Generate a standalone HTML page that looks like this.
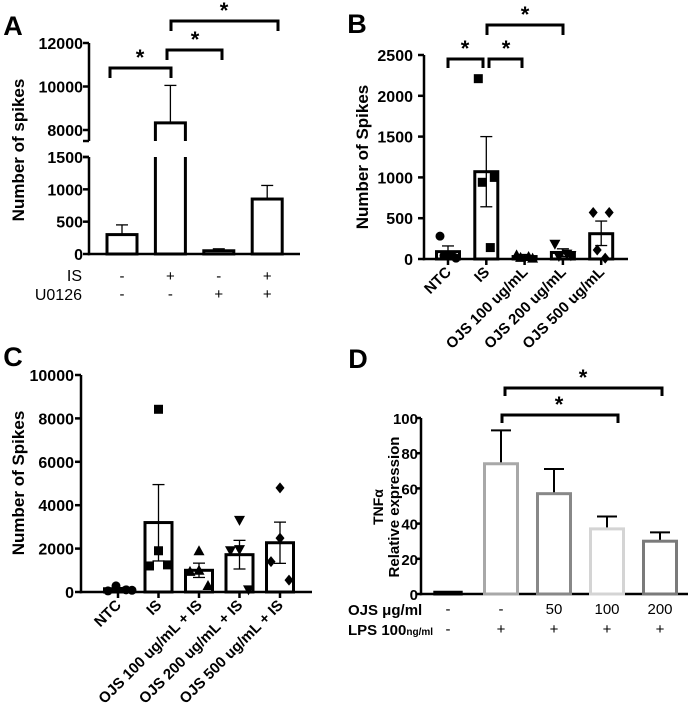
<!DOCTYPE html>
<html><head><meta charset="utf-8"><style>
html,body{margin:0;padding:0;background:#fff;width:690px;height:723px;overflow:hidden}
text{font-family:"Liberation Sans",Arial,sans-serif}
</style></head><body>
<svg id="fig" width="690" height="723" viewBox="0 0 690 723" xmlns="http://www.w3.org/2000/svg"></svg>
<script>
// Panel A data
const aValues=[300,8330,50,850];
const aErrors=[450,10050,80,1060];
const aLowTicks=[0,500,1000,1500];
const aHighTicks=[8000,10000,12000];
const aIS=["-","+","-","+"];
const aU0126=["-","-","+","+"];
// Panel B data
const bCats=["NTC","IS","OJS 100 ug/mL","OJS 200 ug/mL","OJS 500 ug/mL"];
const bValues=[90,1070,30,80,310];
const bErrLo=[20,640,10,30,165];
const bErrHi=[160,1500,55,125,465];
const bPoints=[[280,10,40,40],[2210,1000,940,140],[50,10,20,30],[180,40,30,60],[570,570,110,10]];
const bTicks=[0,500,1000,1500,2000,2500];
// Panel C data
const cCats=["NTC","IS","OJS 100 ug/mL + IS","OJS 200 ug/mL + IS","OJS 500 ug/mL + IS"];
const cValues=[150,3200,1000,1720,2270];
const cErrLo=[100,1430,670,1060,1320];
const cErrHi=[200,4950,1330,2380,3220];
const cPoints=[[280,50,100,80],[8420,1900,1200,1250],[1900,1000,950,300],[3300,1950,1900,100],[4800,2480,1400,550]];
const cTicks=[0,2000,4000,6000,8000,10000];
// Panel D data
const dValues=[1,74,57,37,30];
const dErrors=[1,93,71,44,35];
const dTicks=[0,20,40,60,80,100];
const dOJS=["-","-","50","100","200"];
const dLPS=["-","+","+","+","+"];
const dColors=["#000","#a8a8a8","#888","#d4d4d4","#7a7a7a"];
const markers=["circle","square","triangle","itriangle","diamond"];

const svg=document.getElementById('fig');
const NS="http://www.w3.org/2000/svg";
function el(tag,attrs,parent,txt){const e=document.createElementNS(NS,tag);for(const k in attrs)e.setAttribute(k,attrs[k]);if(txt!==undefined)e.textContent=txt;(parent||svg).appendChild(e);return e;}
function grp(name){const g=document.createElementNS(NS,'g');


svg.appendChild(g);return g;}
function line(g,x1,y1,x2,y2,w,c){return el('line',{x1,y1,x2,y2,stroke:c||'#000','stroke-width':w||2.5},g);}
function txt(g,x,y,s,opt){opt=opt||{};return el('text',{x,y,'font-size':opt.size||16,'font-weight':opt.bold===false?'normal':'bold','text-anchor':opt.anchor||'middle',transform:opt.rot?`rotate(${opt.rot} ${x} ${y})`:''},g,s);}
function bracket(g,x1,x2,y,leg,sx){const p=el('path',{d:`M${x1} ${y+leg}V${y}H${x2}V${y+leg}`,fill:'none',stroke:'#000','stroke-width':3},g);


const s=txt(g,(sx!==undefined?sx:(x1+x2)/2),y-3,'*',{size:22});

}
function marker(g,type,x,y,r){let e;
if(type==='circle')e=el('circle',{cx:x,cy:y,r:r},g);
else if(type==='square')e=el('rect',{x:x-r,y:y-r,width:2*r,height:2*r},g);
else if(type==='triangle')e=el('path',{d:`M${x} ${y-r-1}L${x+r+1} ${y+r}L${x-r-1} ${y+r}Z`},g);
else if(type==='itriangle')e=el('path',{d:`M${x} ${y+r+1}L${x+r+1} ${y-r}L${x-r-1} ${y-r}Z`},g);
else e=el('path',{d:`M${x} ${y-r-1}L${x+r} ${y}L${x} ${y+r+1}L${x-r} ${y}Z`},g);
e.setAttribute('fill','#000');

}

// ---------- Panel A ----------
(function(){
const g=grp('panel-a');
const ax=89,x0=254,yLow=v=>254-v*(97/1500),yHigh=v=>130-(v-8000)*(43.5/2000);
const xA=i=>122+i*48.4, bw=30;
function yA(v){return v<=1500?yLow(v):yHigh(v);}
txt(g,13,35,'A',{size:27});
line(g,ax,43,ax,141);line(g,ax,157,ax,x0+1.2);line(g,ax-1.2,x0,300,x0);
aHighTicks.forEach(t=>{line(g,ax-6,yHigh(t),ax,yHigh(t));txt(g,83,yHigh(t)+6,t,{anchor:'end'});});
aLowTicks.forEach(t=>{line(g,ax-6,yLow(t),ax,yLow(t));txt(g,83,yLow(t)+6,t,{anchor:'end'});});
line(g,ax-6,141,ax,141);line(g,ax-6,157,ax,157);
const yt=txt(g,24,150,'Number of spikes',{rot:-90,size:17});


aValues.forEach((v,i)=>{const x=xA(i);
 const eh=aErrors[i];line(g,x,yA(v),x,yA(eh),1.3);line(g,x-6,yA(eh),x+6,yA(eh),1.3);
 let b;
 if(v>1500){b=el('path',{d:`M${x-bw/2} ${yLow(1500)}V${x0}H${x+bw/2}V${yLow(1500)}M${x-bw/2} 141V${yHigh(v)}H${x+bw/2}V141`,fill:'none',stroke:'#000','stroke-width':3},g);}
 else b=el('rect',{x:x-bw/2,y:yA(v),width:bw,height:x0-yA(v),fill:'#fff',stroke:'#000','stroke-width':3},g);
 
 
 txt(g,x,281,aIS[i],{size:15,bold:false});txt(g,x,299,aU0126[i],{size:15,bold:false});});
txt(g,82,281,'IS',{size:16,bold:false,anchor:'end'});txt(g,82,300,'U0126',{size:16,bold:false,anchor:'end'});
bracket(g,110,171,68,10,140);bracket(g,167,222,50,10,195);bracket(g,171,278,21,10,224);
})();

// ---------- Panel B ----------
(function(){
const g=grp('panel-b');
const ax=424,y0=259,y=v=>y0-v*(204/2500),xB=i=>448+i*38.3,bw=23;
txt(g,357,33,'B',{size:27});
line(g,ax,55,ax,y0+1.2);line(g,ax-1.2,y0,628,y0);
bTicks.forEach(t=>{line(g,ax-6,y(t),ax,y(t));txt(g,413,y(t)+6,t,{anchor:'end'});});
const yt=txt(g,368,157,'Number of Spikes',{rot:-90,size:17});


bValues.forEach((v,i)=>{const x=xB(i);
 const b=el('rect',{x:x-bw/2,y:y(v),width:bw,height:y0-y(v),fill:'#fff',stroke:'#000','stroke-width':3},g);
 
 
 line(g,x,y(bErrLo[i]),x,y(bErrHi[i]),1.3);line(g,x-6,y(bErrLo[i]),x+6,y(bErrLo[i]),1.3);line(g,x-6,y(bErrHi[i]),x+6,y(bErrHi[i]),1.3);
 line(g,x,y0,x,y0+6,2.5);
 const offs=[-8,8,-11,11];
 bPoints[i].forEach((p,j)=>marker(g,markers[i],x+(j<2?offs[j]:(j===2?-4:4)),y(p),4.5));
 const l=txt(g,x+4,y0+14,bCats[i],{anchor:'end',size:15,rot:-45});
 
 });
bracket(g,448,483,59,9,465);bracket(g,489,522,59,9,506);bracket(g,487,563,25,10,525);
})();

// ---------- Panel C ----------
(function(){
const g=grp('panel-c');
const ax=81,y0=592,y=v=>y0-v*(217/10000),xC=i=>118+i*40.5,bw=27;
txt(g,13,366,'C',{size:27});
line(g,ax,375,ax,y0+1.2);line(g,ax-1.2,y0,312,y0);
cTicks.forEach(t=>{line(g,ax-6,y(t),ax,y(t));txt(g,74,y(t)+6,t,{anchor:'end'});});
const yt=txt(g,24,483,'Number of Spikes',{rot:-90,size:17});


cValues.forEach((v,i)=>{const x=xC(i);
 const b=el('rect',{x:x-bw/2,y:y(v),width:bw,height:y0-y(v),fill:'#fff',stroke:'#000','stroke-width':3},g);
 
 
 line(g,x,y(cErrLo[i]),x,y(cErrHi[i]),1.3);line(g,x-6,y(cErrLo[i]),x+6,y(cErrLo[i]),1.3);line(g,x-6,y(cErrHi[i]),x+6,y(cErrHi[i]),1.3);
 line(g,x,y0,x,y0+6,2.5);
 const offs=i===0?[-2,-10,8,14]:[0,0,-9,9];
 cPoints[i].forEach((p,j)=>marker(g,markers[i],x+offs[j],y(p),4.5));
 const l=txt(g,x+4,y0+14,cCats[i],{anchor:'end',size:15,rot:-45});
 
 });
})();

// ---------- Panel D ----------
(function(){
const g=grp('panel-d');
const ax=421,y0=594,y=v=>y0-v*(176/100),xD=i=>448+i*53,bw=33;
txt(g,358,368,'D',{size:27});
line(g,ax,418,ax,y0+1.2);line(g,ax-1.2,y0,688,y0);
dTicks.forEach(t=>{line(g,ax-5,y(t),ax,y(t));txt(g,418,y(t)+6,t,{anchor:'end',size:15});});
const t1=txt(g,383,507,'TNFα',{rot:-90,size:14});


const t2=txt(g,399,507,'Relative expression',{rot:-90,size:15});


dValues.forEach((v,i)=>{const x=xD(i);
 line(g,x,y(v),x,y(dErrors[i]),2,'#000');line(g,x-10,y(dErrors[i]),x+10,y(dErrors[i]),2);
 const w=i===0?bw*0.8:bw;
 const b=el('rect',{x:x-w/2,y:y(v),width:w,height:Math.max(y0-y(v),1),fill:'#fff',stroke:dColors[i],'stroke-width':3},g);
 
 
 txt(g,x,614,dOJS[i],{size:15,bold:false});txt(g,x,634,dLPS[i],{size:15,bold:false});});
txt(g,348,615,'OJS μg/ml',{size:15,anchor:'start'});
const lp=el('text',{x:348,y:635,'font-size':15,'font-weight':'bold'},g);
lp.textContent='LPS 100';
el('tspan',{'font-size':10},lp,'ng/ml');
bracket(g,502,618,415,8,559);bracket(g,505,662,388,8,583);
})();
</script>
</body></html>
